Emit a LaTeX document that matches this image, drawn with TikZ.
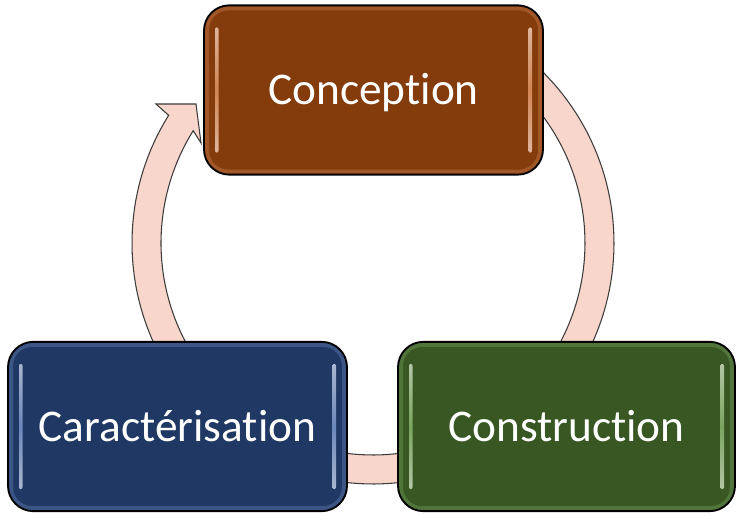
\documentclass[tikz,border=0pt]{standalone}
\usepackage{fontspec}
\setmainfont{Carlito}[Ligatures={NoCommon}]
\usetikzlibrary{calc}
\definecolor{ringfill}{HTML}{F8D6CB}
\definecolor{ringline}{HTML}{3C3C3C}
\definecolor{brownbox}{HTML}{843C0C}
\definecolor{bluebox}{HTML}{1F3864}
\definecolor{greenbox}{HTML}{385723}
\definecolor{brownhl}{HTML}{E59866}
\definecolor{bluehl}{HTML}{7F9BCF}
\definecolor{greenhl}{HTML}{8DB870}
\begin{document}
\begin{tikzpicture}[x=0.75pt,y=-0.75pt,
  bevel/.style={path picture={
    \coordinate (nw) at (path picture bounding box.north west);
    \coordinate (se) at (path picture bounding box.south east);
    \draw[#1, opacity=0.3, line width=3pt, rounded corners=16pt]
      ($(nw)+(3,3)$) rectangle ($(se)+(-3,-3)$);
    \shade[top color=#1!40!white, bottom color=#1!40!white, middle color=#1, rounded corners=1.5pt, opacity=0.8]
      ($(nw)+(11,22)$) rectangle ($(nw|-se)+(14.5,-22)$);
    \shade[top color=#1!40!white, bottom color=#1!40!white, middle color=#1, rounded corners=1.5pt, opacity=0.8]
      ($(se|-nw)+(-14.5,22)$) rectangle ($(se)+(-11,-22)$);
  }},
  stagebox/.style={rectangle, rounded corners=19pt, draw=black, line width=1.4pt,
    fill=#1box, bevel=#1hl, text=white, font=\fontsize{34}{40}\selectfont,
    text height=21.9pt, text depth=0pt, inner sep=0pt, minimum height=127pt},
  ringstyle/.style={fill=ringfill, draw=ringline, line width=0.8pt, line join=miter}
]
\useasboundingbox (0,0) rectangle (736,516);
\def\cx{373}\def\cy{243}
% circular arrow ring
\path[ringstyle]
  plot[domain=-60:212, samples=150] ({\cx+241*cos(\x)},{\cy+241*sin(\x)})
  -- (156,104) -- (196,104) -- (201,143)
  -- plot[domain=212:-60, samples=150] ({\cx+212*cos(\x)},{\cy+212*sin(\x)}) -- cycle;
% boxes
\node[stagebox=brown, minimum width=254.25pt] (con) at (373.5,90) {Conception};
\node[stagebox=blue, minimum width=254.25pt] (car) at (177.5,426.5) {Caractérisation};
\node[stagebox=green, minimum width=252.75pt] (cns) at (566.5,426.5) {Construction};
\end{tikzpicture}
\end{document}
